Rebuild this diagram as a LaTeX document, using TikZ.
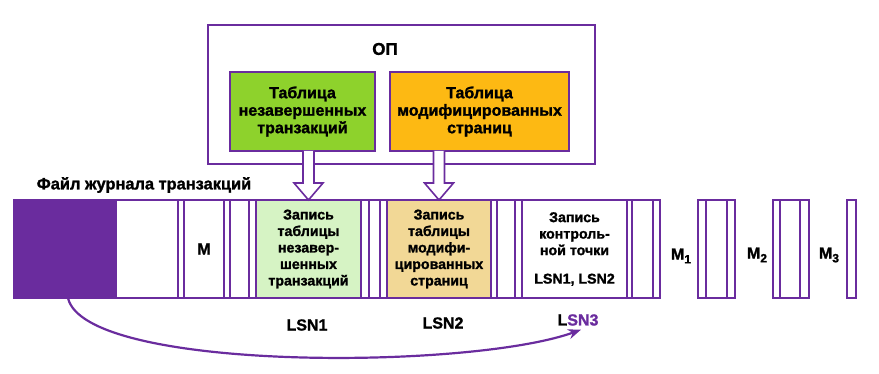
\documentclass[tikz,border=0pt]{standalone}
\usepackage{fontspec}
\setmainfont{Liberation Sans}[BoldFeatures={FakeBold=1.4}]
\usetikzlibrary{calc,arrows.meta}
\definecolor{purp}{HTML}{6A2C9E}
\definecolor{topgreen}{HTML}{8ED22C}
\definecolor{toporange}{HTML}{FDB913}
\definecolor{lgreen}{HTML}{D6F3C4}
\definecolor{lorange}{HTML}{F2D896}
\begin{document}
\begin{tikzpicture}[x=1pt,y=-1pt,line width=1.8pt,
  every node/.style={font=\bfseries\fontsize{14.2}{16.5}\selectfont, inner sep=0pt, outer sep=0pt},
  box/.style={draw=purp, minimum height=98},
  tbox/.style={draw=purp, minimum height=79, align=center, font=\bfseries\fontsize{16}{17.5}\selectfont},
  rec/.style={box, align=center},
  sepbox/.style={box},
  hollow/.style={draw=purp, fill=white, line width=1.6pt, line join=miter},
  lbl/.style={font=\bfseries\fontsize{16}{18}\selectfont}]
\useasboundingbox (0,0) rectangle (879,374);
% main memory
\node[draw=purp, minimum width=387, minimum height=139, anchor=north west] (op) at (208,25) {};
\node[font=\bfseries\fontsize{17}{19}\selectfont] (opl) at (385,49) {ОП};
\node[tbox, fill=topgreen, minimum width=145] (tg) at (302.5,111.5) {Таблица\\незавершенных\\транзакций};
\node[tbox, fill=toporange, minimum width=179] (to) at (479.5,111.5) {Таблица\\модифицированных\\страниц};
% log strip
\node[lbl, font=\bfseries\fontsize{16.4}{18}\selectfont] (fl) at (144,185) {Файл журнала транзакций};
\node[box, minimum width=646, anchor=north west] (strip) at (14,200) {};
\node[box, fill=purp, minimum width=102, anchor=north west] (dirty) at (14,200) {};
\node[sepbox, minimum width=6] (s1) at (181,249) {};
\node[rec, minimum width=40, lbl] (m) at (204,249) {M};
\node[sepbox, minimum width=6] (s2) at (227,249) {};
\node[sepbox, minimum width=7] (s3) at (252.5,249) {};
\node[rec, fill=lgreen, minimum width=105] (gs) at (308.5,249) {Запись\\таблицы\\незавер-\\шенных\\транзакций};
\node[sepbox, minimum width=8] (s4) at (365,249) {};
\node[sepbox, minimum width=7] (s5) at (383.5,249) {};
\node[rec, fill=lorange, minimum width=104] (os) at (439,249) {Запись\\таблицы\\модифи-\\цированных\\страниц};
\node[sepbox, minimum width=6] (s6) at (494,249) {};
\node[sepbox, minimum width=7] (s7) at (518.5,249) {};
\node[rec, minimum width=105] (cp) at (574.5,249) {Запись\\контроль-\\ной точки\\[12pt]LSN1, LSN2};
\node[sepbox, minimum width=5] (s8) at (629.5,249) {};
\node[sepbox, minimum width=7] (s9) at (656.5,249) {};
% M1, M2, M3 blocks
\node[box, minimum width=37] (b1) at (716.5,249) {};
\draw[purp] ($(b1.north west)+(8,0)$) -- ($(b1.south west)+(8,0)$);
\draw[purp] ($(b1.north east)+(-8,0)$) -- ($(b1.south east)+(-8,0)$);
\node[box, minimum width=36] (b2) at (791,249) {};
\draw[purp] ($(b2.north west)+(7,0)$) -- ($(b2.south west)+(7,0)$);
\draw[purp] ($(b2.north east)+(-9,0)$) -- ($(b2.south east)+(-9,0)$);
\node[box, minimum width=9] (b3) at (851.5,249) {};
\node[lbl] (m1) at (681,256) {M\raisebox{-0.45ex}{\fontsize{12}{12}\selectfont 1}};
\node[lbl] (m2) at (757,255) {M\raisebox{-0.45ex}{\fontsize{12}{12}\selectfont 2}};
\node[lbl] (m3) at (829,255) {M\raisebox{-0.45ex}{\fontsize{12}{12}\selectfont 3}};
% LSN labels
\node[lbl] (l1) at (307,325) {LSN1};
\node[lbl] (l2) at (443,323) {LSN2};
\node[lbl] (l3) at (578,320) {L\textcolor{purp}{SN3}};
% hollow arrows
\foreach \src/\dst in {tg/gs, to/os}{
  \coordinate (a) at (\dst.north |- \src.south);
  \draw[hollow] ($(a)+(-5.5,0)$) -- ($(a)+(-5.5,32)$) -- ($(a)+(-14.5,32)$) -- (\dst.north)
     -- ($(a)+(14.5,32)$) -- ($(a)+(5.5,32)$) -- ($(a)+(5.5,0)$);
}
% curved arrow
\draw[purp, line width=2.2pt, -{Stealth[length=13pt,width=10pt]}] ($(dirty.south)+(3,0)$) .. controls (85,372) and (470,370) .. ($(l3.south)+(3,4)$);
\end{tikzpicture}
\end{document}
